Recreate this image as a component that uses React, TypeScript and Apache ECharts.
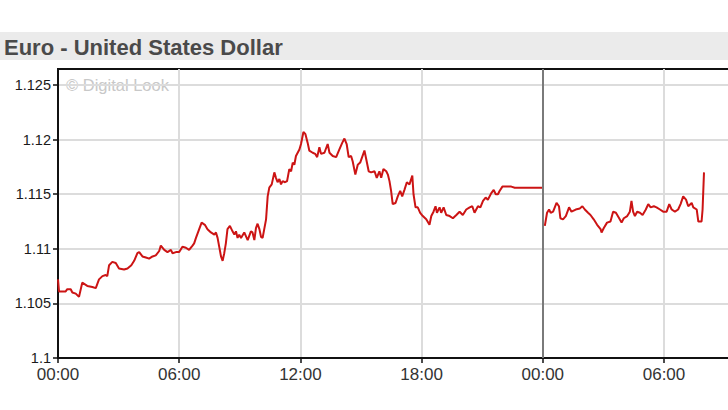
import React, { useEffect, useRef } from "react";
import * as echarts from "echarts";

const TITLE = "Euro - United States Dollar";
const WATERMARK = "© Digital Look";

const yTicks = [1.1, 1.105, 1.11, 1.115, 1.12, 1.125];
const xLabelHours = [0, 6, 12, 18, 24, 30];

const day1Hours = [
  0.0, 0.05, 0.38, 0.46, 0.63, 0.71, 0.88, 1.04, 1.2, 1.45, 1.7, 1.87, 2.03, 2.2, 2.36, 2.44, 2.53, 2.69, 2.86,
  3.02, 3.27, 3.44, 3.63, 3.77, 3.93, 4.02, 4.18, 4.35, 4.51, 4.68, 4.84, 5.01, 5.09, 5.26, 5.42, 5.59, 5.67,
  5.84, 6.0, 6.16, 6.33, 6.49, 6.66, 6.74, 6.83, 6.99, 7.11, 7.27, 7.4, 7.57, 7.74, 7.82, 7.9, 7.98, 8.07, 8.15,
  8.23, 8.31, 8.39, 8.51, 8.64, 8.73, 8.81, 8.89, 8.97, 9.06, 9.22, 9.39, 9.55, 9.63, 9.72, 9.8, 9.88, 9.97,
  10.05, 10.13, 10.21, 10.3, 10.38, 10.46, 10.58, 10.71, 10.79, 10.87, 10.96, 11.04, 11.12, 11.24, 11.34,
  11.45, 11.54, 11.62, 11.7, 11.78, 11.95, 12.03, 12.15, 12.25, 12.36, 12.44, 12.61, 12.73, 12.83, 12.94,
  13.02, 13.19, 13.35, 13.44, 13.6, 13.77, 13.93, 14.07, 14.18, 14.29, 14.39, 14.51, 14.59, 14.72, 14.84,
  14.96, 15.17, 15.26, 15.38, 15.5, 15.67, 15.78, 15.91, 16.0, 16.11, 16.25, 16.33, 16.41, 16.49, 16.57,
  16.71, 16.82, 16.94, 17.04, 17.15, 17.27, 17.4, 17.54, 17.6, 17.7, 17.81, 17.93, 18.06, 18.23, 18.39,
  18.48, 18.59, 18.69, 18.76, 18.89, 18.97, 19.09, 19.22, 19.39, 19.55, 19.72, 19.88, 20.04, 20.21, 20.38,
  20.51, 20.62, 20.79, 20.91, 21.04, 21.17, 21.28, 21.45, 21.57, 21.67, 21.78, 21.86, 22.0, 22.44, 22.61, 24.0,
];
const day1Rates = [
  1.1072, 1.1061, 1.1061, 1.1063, 1.1063, 1.106, 1.1059, 1.1056, 1.1069, 1.1066, 1.1065, 1.1064, 1.1072, 1.1075,
  1.1076, 1.1075, 1.1085, 1.1088, 1.1087, 1.1082, 1.1081, 1.1082, 1.1085, 1.1089, 1.1096, 1.1097, 1.1093,
  1.1092, 1.1091, 1.1093, 1.1094, 1.1098, 1.1103, 1.1099, 1.1097, 1.1099, 1.1096, 1.1097, 1.1097, 1.1102,
  1.1101, 1.1099, 1.1103, 1.1105, 1.111, 1.1118, 1.1124, 1.1122, 1.1118, 1.1115, 1.1113, 1.1115, 1.111,
  1.1102, 1.1093, 1.1089, 1.1096, 1.1105, 1.1118, 1.1121, 1.1116, 1.1113, 1.1116, 1.111, 1.1113, 1.111,
  1.1115, 1.1108, 1.1116, 1.1115, 1.1108, 1.1119, 1.1123, 1.1118, 1.1111, 1.111, 1.1118, 1.1127, 1.1148,
  1.1156, 1.1159, 1.117, 1.1165, 1.1161, 1.1164, 1.1159, 1.1162, 1.1161, 1.1162, 1.1173, 1.1171, 1.1179,
  1.1177, 1.1185, 1.1191, 1.1196, 1.1207, 1.1205, 1.1197, 1.119, 1.1188, 1.1187, 1.1184, 1.1193, 1.1187,
  1.1188, 1.1196, 1.1188, 1.1185, 1.1184, 1.1191, 1.1197, 1.1201, 1.1196, 1.1184, 1.1185, 1.118, 1.1168,
  1.1177, 1.1179, 1.119, 1.1182, 1.1171, 1.117, 1.1171, 1.1165, 1.1171, 1.1165, 1.1173, 1.1171, 1.1168,
  1.1162, 1.1153, 1.1141, 1.1142, 1.1148, 1.1153, 1.1148, 1.1154, 1.1161, 1.1159, 1.1167, 1.115, 1.1138,
  1.1138, 1.1133, 1.113, 1.1127, 1.1122, 1.113, 1.1134, 1.1139, 1.1133, 1.1138, 1.1133, 1.1138, 1.1131,
  1.113, 1.1128, 1.1131, 1.1134, 1.1131, 1.1136, 1.1138, 1.1139, 1.1133, 1.1139, 1.1138, 1.1144, 1.1147,
  1.1145, 1.1151, 1.1154, 1.115, 1.115, 1.1153, 1.1157, 1.1157, 1.1156, 1.1156,
];

const day2Hours = [
  24.1, 24.21, 24.31, 24.39, 24.51, 24.68, 24.8, 24.87, 25.0, 25.14, 25.3, 25.42, 25.63, 25.83, 25.96, 26.08,
  26.24, 26.36, 26.52, 26.69, 26.86, 26.91, 27.02, 27.18, 27.35, 27.48, 27.62, 27.78, 27.9, 28.01, 28.18,
  28.31, 28.39, 28.47, 28.56, 28.67, 28.81, 28.94, 29.1, 29.22, 29.34, 29.5, 29.63, 29.8, 29.96, 30.13, 30.26,
  30.38, 30.54, 30.7, 30.82, 30.95, 31.09, 31.2, 31.37, 31.45, 31.62, 31.7, 31.86, 31.91, 31.98,
];
const day2Rates = [
  1.1121, 1.1133, 1.1136, 1.1133, 1.1134, 1.1142, 1.1139, 1.1128, 1.1127, 1.113, 1.1138, 1.1134, 1.1136,
  1.1137, 1.1139, 1.1136, 1.1133, 1.1131, 1.1127, 1.1122, 1.1118, 1.1115, 1.1119, 1.1124, 1.1125, 1.1134,
  1.1133, 1.1128, 1.1124, 1.1128, 1.113, 1.1134, 1.1144, 1.1134, 1.113, 1.1134, 1.1133, 1.1131, 1.1136,
  1.1141, 1.1138, 1.1139, 1.1138, 1.1136, 1.1134, 1.1134, 1.1141, 1.1136, 1.1134, 1.1136, 1.1141, 1.1148,
  1.1145, 1.1139, 1.1142, 1.1138, 1.1136, 1.1125, 1.1125, 1.1136, 1.117,
];

const FONT = "'Liberation Sans', Arial, Helvetica, sans-serif";
const RED = "#cc1414";

function hourLabel(v: number): string {
  const h = ((Math.round(v) % 24) + 24) % 24;
  return (h < 10 ? "0" : "") + h + ":00";
}

export default function App() {
  const ref = useRef<HTMLDivElement>(null);

  useEffect(() => {
    if (!ref.current) return;
    const chart = echarts.init(ref.current, null, { renderer: "svg" });
    const pxPerHour = 20.2;
    const xMax = 34;
    chart.setOption({
      animation: false,
      backgroundColor: "#ffffff",
      grid: {
        left: 58,
        top: 69,
        width: xMax * pxPerHour,
        height: 289,
        show: true,
        borderColor: "#111111",
        borderWidth: 2,
        backgroundColor: "transparent",
        containLabel: false,
        outerBoundsMode: "none",
      },
      graphic: [
        {
          type: "rect",
          left: 0,
          top: 32,
          shape: { width: 728, height: 28 },
          style: { fill: "#ebebeb" },
          silent: true,
          z: 0,
        },
        {
          type: "text",
          x: 4,
          y: 47,
          style: {
            text: TITLE,
            fill: "#4a4a4a",
            font: `bold 22px ${FONT}`,
            verticalAlign: "middle",
          },
          silent: true,
        },
        {
          type: "text",
          x: 66,
          y: 85,
          style: {
            text: WATERMARK,
            fill: "#c8c8c8",
            font: `16.5px ${FONT}`,
            verticalAlign: "middle",
          },
          silent: true,
        },
      ],
      xAxis: {
        type: "value",
        min: 0,
        max: xMax,
        interval: 2,
        axisLine: { show: true, lineStyle: { color: "#111111", width: 2 } },
        axisTick: {
          show: true,
          length: 5,
          lineStyle: { color: "#111111", width: 1.5 },
          customValues: xLabelHours,
        },
        axisLabel: {
          customValues: xLabelHours,
          formatter: (v: number) => (Math.abs(v % 6) < 1e-6 ? hourLabel(v) : ""),
          color: "#333333",
          fontFamily: FONT,
          fontSize: 17,
          lineHeight: 13,
          margin: 10,
        },
        splitLine: { show: true, lineStyle: { color: "#dcdcdc", width: 2 } },
      },
      yAxis: {
        type: "value",
        min: 1.1,
        max: 1.12647,
        interval: 0.005,
        axisLine: { show: true, lineStyle: { color: "#111111", width: 2 } },
        axisTick: {
          show: true,
          length: 5,
          lineStyle: { color: "#111111", width: 1.5 },
          customValues: yTicks,
        },
        axisLabel: {
          customValues: yTicks,
          formatter: (v: number) => {
            const r = Math.round(v * 1000) / 1000;
            return Math.abs(r - v) < 1e-7 && v <= 1.1251 ? String(r) : "";
          },
          color: "#1a1a1a",
          fontFamily: FONT,
          fontSize: 14.5,
          lineHeight: 11,
          margin: 7,
        },
        splitLine: { show: true, lineStyle: { color: "#dcdcdc", width: 2 } },
      },
      series: [
        {
          type: "line",
          data: day1Hours.map((h, i) => [h, day1Rates[i]]),
          showSymbol: false,
          symbol: "none",
          lineStyle: { color: RED, width: 2 },
          z: 3,
        },
        {
          type: "line",
          data: day2Hours.map((h, i) => [h, day2Rates[i]]),
          showSymbol: false,
          symbol: "none",
          lineStyle: { color: RED, width: 2 },
          z: 3,
          markLine: {
            silent: true,
            symbol: ["none", "none"],
            label: { show: false },
            lineStyle: { color: "#7a7a7a", width: 2, type: "solid" },
            data: [{ xAxis: 24 }],
          },
        },
      ],
    });
    return () => chart.dispose();
  }, []);

  return (
    <div
      ref={ref}
      style={{ position: "absolute", left: 0, top: 0, width: 728, height: 410, background: "#fff" }}
    />
  );
}
